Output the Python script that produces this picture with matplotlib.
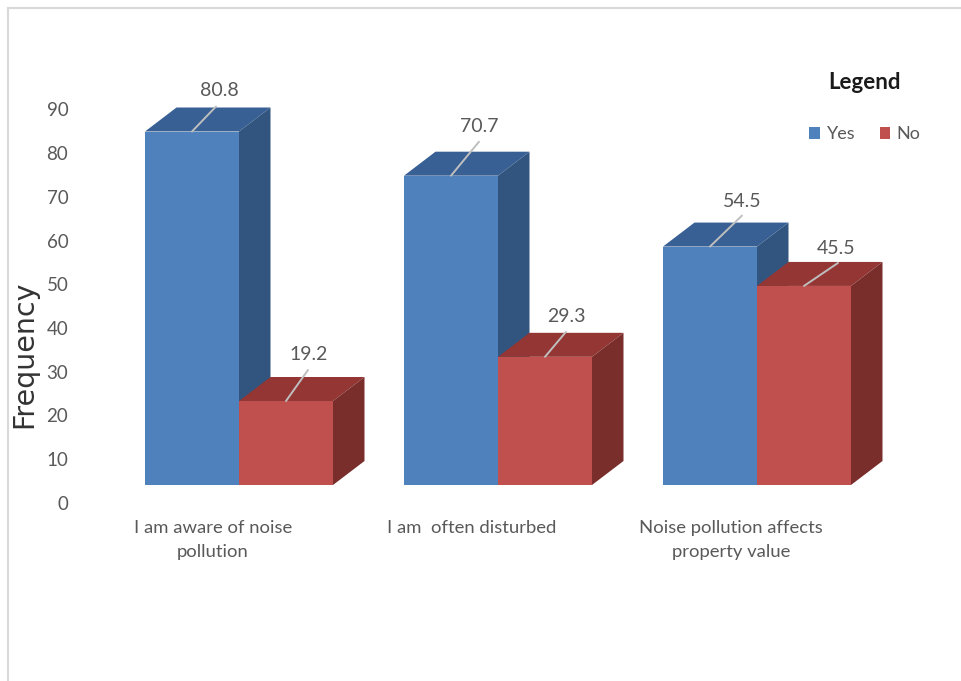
import numpy as np
import matplotlib
matplotlib.use("Agg")
import matplotlib.pyplot as plt
from matplotlib.lines import Line2D
from matplotlib.patches import Patch, Polygon
from matplotlib.transforms import ScaledTranslation

categories = ["I am aware of noise\npollution", "I am  often disturbed", "Noise pollution affects\nproperty value"]
yes_values = [80.8, 70.7, 54.5]
no_values = [19.2, 29.3, 45.5]
y_ticks = [0, 10, 20, 30, 40, 50, 60, 70, 80, 90]

# label and leader line offsets from the top of each bar, in pixels
yes_label_off = [(27, -41), (28, -49), (32, -45)]
yes_line_off = [(24, -25), (28, -34), (32, -31)]
no_label_off = [(23, -46), (21, -40), (32, -37)]
no_line_off = [(22, -31), (21, -25), (34, -23)]

W, H = 961, 681
DPI = 100
GROUP_PX = 259.0
UNIT_PX = 4.375
BAR_W = 94 / GROUP_PX
DX = 31.5 / GROUP_PX
DY = 24 / UNIT_PX

BLUE = ("#4f81bd", "#386094", "#31557f")
RED = ("#c0504d", "#943634", "#7a2e2c")
GREY = "#595959"

plt.rcParams["font.family"] = ["Lato", "DejaVu Sans"]

fig = plt.figure(figsize=(W / DPI, H / DPI), dpi=DPI)
left, right, top, bottom = 85, 900, 60, 485
ax = fig.add_axes([left / W, 1 - bottom / H, (right - left) / W, (bottom - top) / H])
ax.set_xlim((left - 239) / GROUP_PX, (right - 239) / GROUP_PX)
ax.set_ylim(0, (bottom - top) / UNIT_PX)


def px_shift(dx, dy):
    return ScaledTranslation(dx / DPI, -dy / DPI, fig.dpi_scale_trans)


def draw_bar(x, value, colors, label_off, line_off):
    front, roof, side = colors
    ax.bar(x, value, BAR_W, align="edge", color=front, linewidth=0, zorder=2)
    x0, x1 = x, x + BAR_W
    ax.add_patch(Polygon([(x0, value), (x1, value), (x1 + DX, value + DY), (x0 + DX, value + DY)],
                         closed=True, facecolor=roof, edgecolor="none", zorder=2))
    ax.add_patch(Polygon([(x1, 0), (x1 + DX, DY), (x1 + DX, value + DY), (x1, value)],
                         closed=True, facecolor=side, edgecolor="none", zorder=2))
    # leader line and value above it
    cx = x + BAR_W / 2
    ax.annotate("", xy=(cx, value), xytext=(line_off[0] * 0.72, -line_off[1] * 0.72),
                textcoords="offset points",
                arrowprops=dict(arrowstyle="-", color="#bfbfbf", lw=1.4, shrinkA=0, shrinkB=0), zorder=3)
    ax.annotate("%.1f" % value, xy=(cx, value), xytext=(label_off[0] * 0.72, -label_off[1] * 0.72),
                textcoords="offset points", ha="center", va="center",
                fontsize=14, color=GREY, zorder=4)


for i in range(len(categories)):
    draw_bar(i - BAR_W, yes_values[i], BLUE, yes_label_off[i], yes_line_off[i])
    draw_bar(i, no_values[i], RED, no_label_off[i], no_line_off[i])

for s in ax.spines.values():
    s.set_visible(False)

ax.set_yticks(y_ticks)
ax.set_yticklabels([str(t) for t in y_ticks], fontsize=13.5, color=GREY)
ax.tick_params(axis="y", length=0, pad=12)
for lab in ax.get_yticklabels():
    lab.set_transform(lab.get_transform() + px_shift(0, 18))

ax.set_xticks(range(len(categories)))
ax.set_xticklabels(categories, fontsize=13.3, color=GREY, linespacing=1.6)
ax.tick_params(axis="x", length=0, pad=25.5)
for lab in ax.get_xticklabels():
    lab.set_transform(lab.get_transform() + px_shift(-26, 0))

fig.text(24 / W, 1 - 354 / H, "Frequency", rotation=90, ha="center", va="center",
         family="DejaVu Sans", fontsize=20.5, color="#333333")

handles = [Patch(facecolor=BLUE[0], label="Yes"), Patch(facecolor=RED[0], label="No")]
leg = ax.legend(handles=handles, ncol=2, title="Legend", frameon=False,
                loc="center", bbox_to_anchor=(865 / W, 1 - 107 / H), bbox_transform=fig.transFigure,
                fontsize=13, labelcolor=GREY, handlelength=0.6, handleheight=0.6,
                handletextpad=0.35, columnspacing=1.35, borderpad=0, borderaxespad=0)
leg.get_title().set_fontsize(16)
leg.get_title().set_fontweight("bold")
leg.get_title().set_color("#1a1a1a")
leg._legend_box.sep = 24

# thin frame around the chart area
frame = "#d9d9d9"
fig.add_artist(Line2D([8 / W, 8 / W], [0, 1 - 8 / H], color=frame, lw=1.5))
fig.add_artist(Line2D([8 / W, 960 / W], [1 - 8 / H, 1 - 8 / H], color=frame, lw=1.5))

fig.savefig("out.png", dpi=DPI)
